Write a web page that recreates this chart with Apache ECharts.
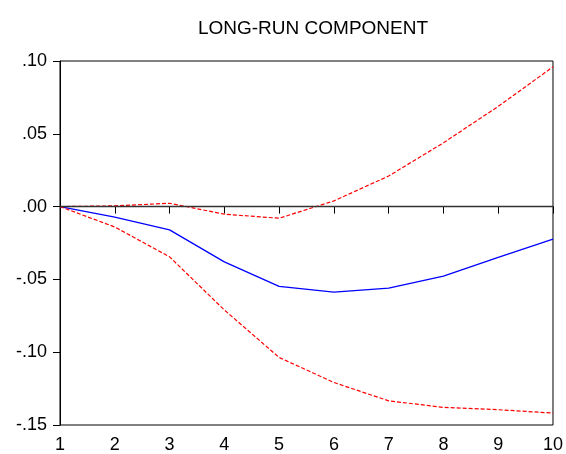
<!DOCTYPE html>
<html>
<head>
<meta charset="utf-8">
<script src="https://cdn.jsdelivr.net/npm/echarts@6/dist/echarts.min.js"></script>
<style>
  html, body { margin: 0; padding: 0; background: #fff; }
  #chart { width: 566px; height: 454px; }
</style>
</head>
<body>
<div id="chart"></div>
<script>
// periods and responses
const periods = [1, 2, 3, 4, 5, 6, 7, 8, 9, 10];
const response = [0, -0.0072, -0.016, -0.038, -0.0548, -0.0587, -0.056, -0.0478, -0.0348, -0.0223];
const upperBand = [0, 0.0005, 0.0023, -0.0052, -0.008, 0.0039, 0.021, 0.0438, 0.0688, 0.096];
const lowerBand = [0, -0.014, -0.0345, -0.071, -0.1036, -0.1208, -0.1334, -0.1379, -0.1395, -0.1418];

const toPairs = (vals) => periods.map((p, i) => [p, vals[i]]);

const chart = echarts.init(document.getElementById('chart'));

const option = {
  animation: false,
  title: {
    text: 'LONG-RUN COMPONENT',
    left: 308,
    top: 14,
    textAlign: 'center',
    textStyle: { fontFamily: 'Liberation Sans', fontSize: 19, fontWeight: 'normal', color: '#000' }
  },
  grid: {
    left: 60, right: 12, top: 61, bottom: 27,
    show: true, borderColor: '#000', borderWidth: 1
  },
  xAxis: {
    type: 'value',
    min: 1, max: 10, interval: 1,
    axisLine: { lineStyle: { color: '#000', width: 1 } },
    axisTick: { show: true, length: 7, lineStyle: { color: '#000' } },
    axisLabel: { color: '#000', fontSize: 18, fontFamily: 'Liberation Sans', margin: 11 },
    splitLine: { show: false }
  },
  yAxis: {
    type: 'value',
    min: -0.15, max: 0.10, interval: 0.05,
    axisLine: { show: true, lineStyle: { color: '#000', width: 1 } },
    axisTick: { show: true, length: 7, lineStyle: { color: '#000' } },
    axisLabel: {
      color: '#000', fontSize: 18, fontFamily: 'Liberation Sans', margin: 13,
      formatter: (v) => v.toFixed(2).replace(/^(-?)0\./, '$1.')
    },
    splitLine: { show: false }
  },
  series: [
    {
      type: 'line',
      data: toPairs(response),
      symbol: 'none',
      lineStyle: { color: '#0000ff', width: 1.3 },
      markLine: {
        silent: true,
        symbol: 'none',
        label: { show: false },
        lineStyle: { color: '#333', width: 1.4, type: 'solid' },
        data: [{ yAxis: 0 }]
      },
      z: 3
    },
    {
      type: 'line',
      data: toPairs(upperBand),
      symbol: 'none',
      lineStyle: { color: '#ff0000', width: 1.2, type: [4, 2] }
    },
    {
      type: 'line',
      data: toPairs(lowerBand),
      symbol: 'none',
      lineStyle: { color: '#ff0000', width: 1.2, type: [4, 2] }
    }
  ]
};

chart.setOption(option);
</script>
</body>
</html>
